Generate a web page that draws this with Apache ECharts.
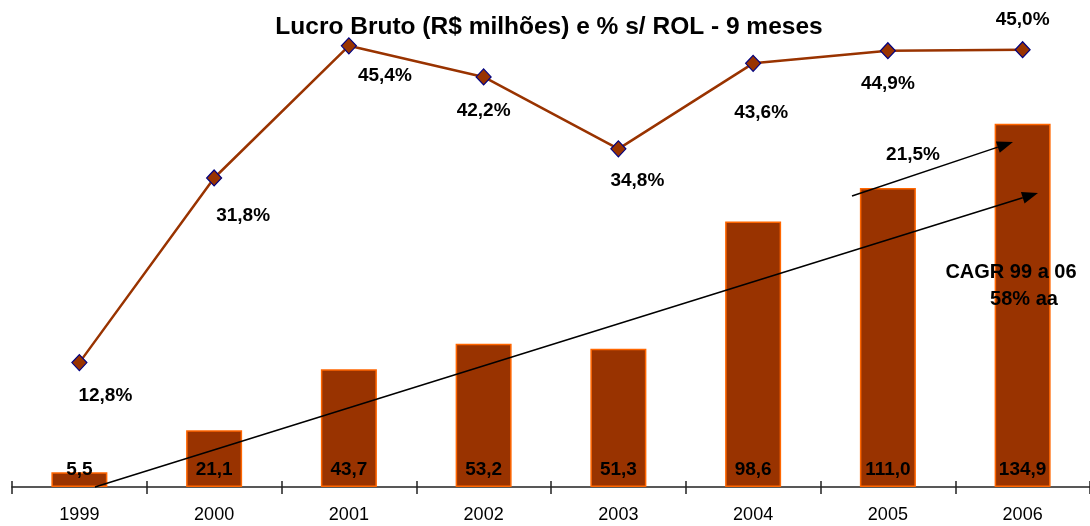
<!DOCTYPE html>
<html>
<head>
<meta charset="utf-8">
<script src="https://cdn.jsdelivr.net/npm/echarts@6/dist/echarts.min.js"></script>
<style>
  html, body { margin: 0; padding: 0; background: #fff; }
  #chart { width: 1090px; height: 526px; }
</style>
</head>
<body>
<div id="chart"></div>
<script>
// dados
var years = ["1999", "2000", "2001", "2002", "2003", "2004", "2005", "2006"];
var lucroBruto = [5.5, 21.1, 43.7, 53.2, 51.3, 98.6, 111.0, 134.9];
var pctRol = [12.8, 31.8, 45.4, 42.2, 34.8, 43.6, 44.9, 45.0];

// deslocamento dos rótulos da linha (px)
var labelOffsets = [[26, 33], [29, 38], [36, 30], [0, 34], [19, 32], [8, 49], [0, 33], [0, -30]];

var fmt = function (v) { return v.toFixed(1).replace(".", ","); };
var font = "Liberation Sans, Arial, sans-serif";

var chart = echarts.init(document.getElementById("chart"));

// seta: linha + ponta
function arrow(x1, y1, x2, y2) {
  var ang = Math.atan2(y2 - y1, x2 - x1);
  var L = 16, W = 6;
  var bx = x2 - L * Math.cos(ang), by = y2 - L * Math.sin(ang);
  var px = -Math.sin(ang) * W, py = Math.cos(ang) * W;
  return [
    { type: "line", shape: { x1: x1, y1: y1, x2: bx, y2: by }, style: { stroke: "#000", lineWidth: 1.5 }, z: 100 },
    { type: "polygon", shape: { points: [[x2, y2], [bx + px, by + py], [bx - px, by - py]] }, style: { fill: "#000" }, z: 100 }
  ];
}

var graphics = [].concat(
  arrow(95, 487, 1038, 193),
  arrow(852, 196, 1013, 142),
  [
    { type: "text", x: 913, y: 155, style: { text: "21,5%", font: "bold 19px " + font, fill: "#000", textAlign: "center", textVerticalAlign: "middle" }, z: 100 },
    { type: "text", x: 1011, y: 272, style: { text: "CAGR 99 a 06", font: "bold 20px " + font, fill: "#000", textAlign: "center", textVerticalAlign: "middle" }, z: 100 },
    { type: "text", x: 1024, y: 299, style: { text: "58% aa", font: "bold 20px " + font, fill: "#000", textAlign: "center", textVerticalAlign: "middle" }, z: 100 }
  ]
);

chart.setOption({
  animation: false,
  backgroundColor: "#fff",
  title: {
    text: "Lucro Bruto (R$ milhões) e % s/ ROL - 9 meses",
    left: 544, top: 10, textAlign: "center",
    textStyle: { fontFamily: font, fontSize: 24.5, fontWeight: "bold", color: "#000" }
  },
  grid: { left: 12, top: 40, width: 1080, bottom: 39 },
  xAxis: [
    {
      type: "category", data: years,
      axisLine: { lineStyle: { color: "#222", width: 1.5 } },
      axisTick: { show: true, length: 7, lineStyle: { color: "#222", width: 1.5 } },
      axisLabel: { fontFamily: font, fontSize: 18, color: "#000", margin: 19 }
    },
    {
      type: "category", data: years, position: "bottom",
      axisLine: { show: false },
      axisTick: { show: true, inside: true, length: 6, lineStyle: { color: "#222", width: 1.5 } },
      axisLabel: { show: false }
    }
  ],
  yAxis: [
    { type: "value", min: 0, max: 166, show: false, splitLine: { show: false } },
    { type: "value", min: 0, max: 46, show: false, splitLine: { show: false } }
  ],
  series: [
    {
      type: "bar", data: lucroBruto, barWidth: 56,
      itemStyle: { color: "#993300", borderColor: "#ff6600", borderWidth: 1.5 },
      label: {
        show: true, position: "insideBottom", distance: 8,
        fontFamily: font, fontSize: 19, fontWeight: "bold", color: "#000",
        formatter: function (p) { return fmt(p.value); }
      }
    },
    {
      type: "line", yAxisIndex: 1, data: pctRol.map(function (v, i) {
        return { value: v, label: { offset: labelOffsets[i] } };
      }),
      symbol: "diamond", symbolSize: [15, 16],
      lineStyle: { color: "#993300", width: 2.5 },
      itemStyle: { color: "#993300", borderColor: "#000080", borderWidth: 1.2 },
      label: {
        show: true, position: "inside",
        fontFamily: font, fontSize: 19, fontWeight: "bold", color: "#000",
        formatter: function (p) { return fmt(p.value) + "%"; }
      },
      z: 5
    }
  ],
  graphic: graphics
});
</script>
</body>
</html>
